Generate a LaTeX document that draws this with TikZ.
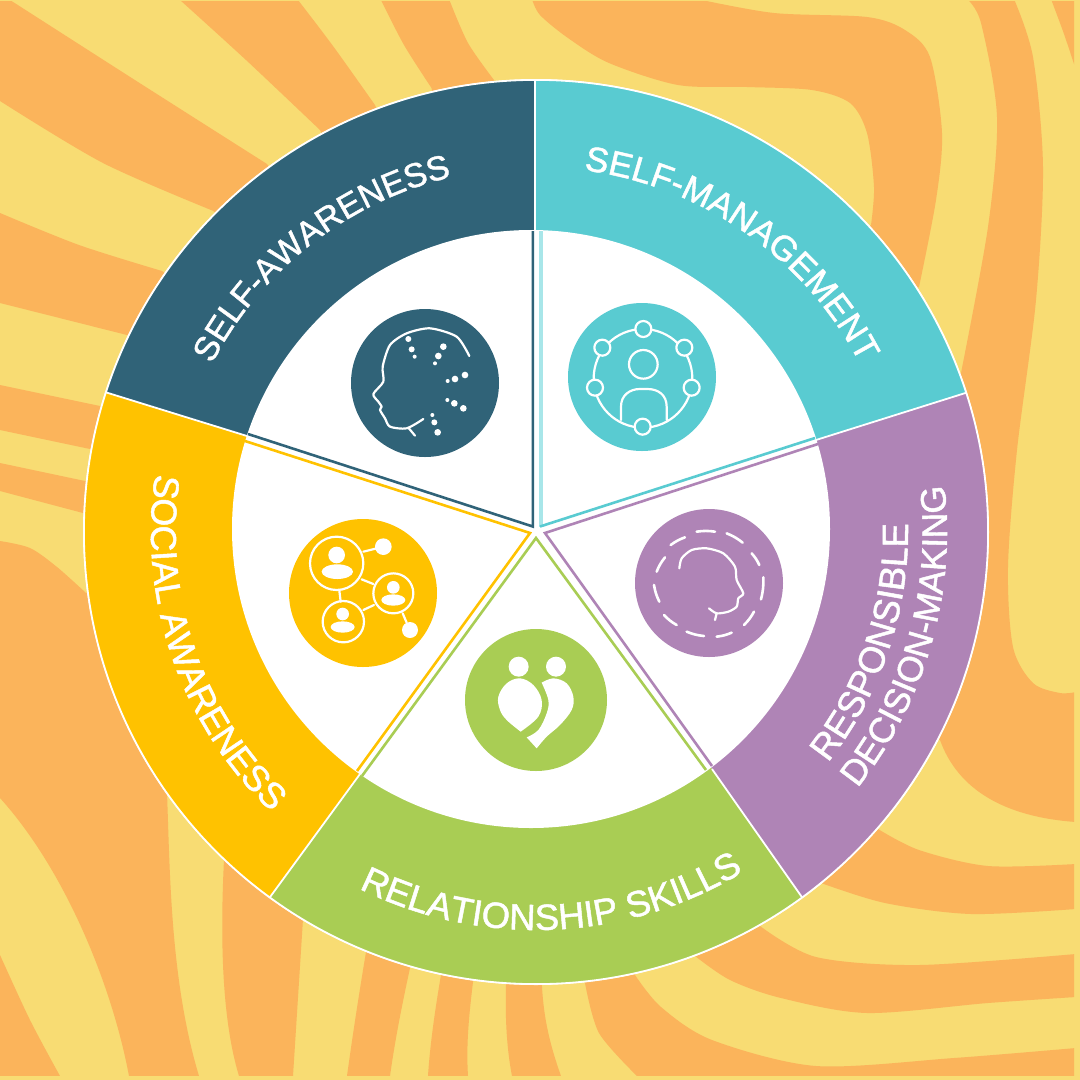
\documentclass[tikz,border=0pt]{standalone}
\usepackage{fontspec}
\usetikzlibrary{decorations.text}
\newfontfamily\lab[FakeBold=1.3]{Liberation Sans}
\definecolor{bgY}{HTML}{F8DC73}
\definecolor{bgO}{HTML}{FBB45B}
\definecolor{cDark}{HTML}{306378}
\definecolor{cTeal}{HTML}{59CBD1}
\definecolor{cTealL}{HTML}{A8E6E9}
\definecolor{cPurp}{HTML}{AF84B6}
\definecolor{cGreen}{HTML}{A9CD54}
\definecolor{cGold}{HTML}{FFC200}
\tikzset{
  stripe/.style={fill=bgO},
  seam/.style={draw=white,line width=1.8pt},
  rim/.style={line width=2.6pt,line join=miter},
  ico/.style={draw=white,line width=2.2pt,line cap=round,line join=round},
  zoomA/.style={shift={(340,295)},x=0.33333pt,y=-0.33333pt},
  zoomB/.style={shift={(280,500)},x=0.33333pt,y=-0.33333pt}
}
\newcommand{\archtext}[5]{% size, radius, start, end, text
  \path[decorate,decoration={text along path,text align=center,
    text={|\lab\fontsize{#1}{#1}\selectfont\color{white}|#5}}]
    (#3:#2) arc[start angle=#3,end angle=#4,radius=#2];}
\begin{document}
\begin{tikzpicture}[x=1pt,y=-1pt]
\useasboundingbox (0,0) rectangle (1080,1080);
\fill[bgY] (0,0) rectangle (1080,1080);
\begin{scope}
\clip (0,1) rectangle (1074,1075);
\coordinate (C) at (536,532);
% top-left stripes
\fill[stripe] (-20,-20) -- (10,0) -- plot[smooth] coordinates {(10,0) (138,82) (267,164)} -- (C) -- plot[smooth] coordinates {(213.5,211) (103,163) (0,101)} -- cycle;
\fill[stripe] plot[smooth] coordinates {(180,0) (246,60) (320,130)} -- (C) -- plot[smooth] coordinates {(375,105) (333,46) (298,0)} -- cycle;
\fill[stripe] plot[smooth] coordinates {(381,0) (404,45) (431.5,88)} -- (C) -- plot[smooth] coordinates {(494,80) (468,43) (449.4,0)} -- cycle;
% left stripes
\fill[stripe] plot[smooth] coordinates {(0,213) (79,245) (162,271)} -- (C) -- plot[smooth] coordinates {(127,335) (0,303)} -- cycle;
\fill[stripe] plot[smooth] coordinates {(0,385) (100,406)} -- (C) -- plot[smooth] coordinates {(90,449) (0,430)} -- cycle;
\fill[stripe] plot[smooth] coordinates {(0,463) (85,481)} -- (C) -- plot[smooth] coordinates {(83,513) (0,491)} -- cycle;
\fill[stripe] plot[smooth] coordinates {(0,541) (30,548) (57,567) (86,593)} -- (C) -- (167,793) .. controls (170,870) and (170,980) .. (199,1076) -- (129,1076) .. controls (112,985) and (65,870) .. (0,798) -- cycle;
\fill[stripe] plot[smooth] coordinates {(0,955) (30,1020) (60,1076)} -- (0,1076) -- cycle;
% bottom stripes
\fill[stripe] (224,860) .. controls (220,940) and (222,1020) .. (239,1076) -- (293,1076) -- (303,919) -- (C) -- cycle;
\fill[stripe] (366,952) .. controls (358,1000) and (352,1040) .. (347,1076) -- (390,1076) .. controls (395,1040) and (402,1005) .. (410,968) -- (C) -- cycle;
\fill[stripe] (441,975) .. controls (435,1010) and (430,1045) .. (428,1076) -- (468,1076) .. controls (466,1045) and (469,1015) .. (473,982) -- (C) -- cycle;
\fill[stripe] (506,985) .. controls (505,1020) and (507,1050) .. (512,1076) -- (561,1076) .. controls (550,1045) and (544,1020) .. (542,987) -- (C) -- cycle;
\fill[stripe] plot[smooth] coordinates {(585,983) (599,1033) (637,1076)} -- (1076,1076) -- plot[smooth] coordinates {(1076,1048) (954,1058) (816,1066) (712,1040) (661,1007) (635,975)} -- (C) -- cycle;
% right-bottom stripes
\fill[stripe] plot[smooth] coordinates {(760,926) (816,957) (919,965) (1076,954)} -- plot[smooth] coordinates {(1076,997) (988,1003) (867,1013) (781,998) (730,980) (695,956)} -- (C) -- cycle;
\fill[stripe] plot[smooth] coordinates {(878,829) (919,850) (988,866) (1076,864)} -- plot[smooth] coordinates {(1076,909) (971,914) (885,903) (821,883)} -- (C) -- cycle;
% top right
\fill[stripe] plot[smooth] coordinates {(532,-1) (540,15) (568,38) (609,63) (678,85) (747,87) (812,90) (850,103) (867,133) (874,187) (871,225)} -- (C) -- plot[smooth] coordinates {(919,287) (936,200) (942,133) (930,57) (905,30) (867,17) (774,13) (697,-1)} -- cycle;
\fill[stripe] plot[smooth] coordinates {(967,-1) (981,23) (997,117) (988,227) (961,373)} -- (C) -- (940,740) .. controls (958,790) and (1005,817) .. (1076,822) -- plot[smooth] coordinates {(1076,692) (1060,693) (1033,683) (1013,647) (1008,567) (1017,450) (1036,300) (1043,167) (1033,57) (1014,-1)} -- cycle;
\fill[stripe] plot[smooth] coordinates {(1051,-1) (1064,34) (1076,70)} -- (1076,-1) -- cycle;
\end{scope}

% disc and coloured bands
\fill[white] (536,532) circle[radius=453];
\begin{scope}
\clip (536,532) circle[radius=452];
\fill[cDark] (536,532) -- (534,240) -- (534,60) -- (60,60) -- (79,384) -- (247,436) -- cycle;
\fill[cTeal] (536,532) -- (536,240) -- (536,60) -- (1010,60) -- (994,384) -- (816,440) -- cycle;
\fill[cPurp] (536,532) -- (816,440) -- (994,384) -- (1020,900) -- (818,920) -- (712,769) -- cycle;
\fill[cGreen] (536,532) -- (712,769) -- (818,920) -- (818,1000) -- (254,1000) -- (254,919) -- (360,774) -- cycle;
\fill[cGold] (536,532) -- (360,774) -- (254,919) -- (50,900) -- (79,384) -- (247,436) -- cycle;
\draw[seam] (247,436) -- (79,384);
\draw[seam] (816,440) -- (994,384);
\draw[seam] (712,769) -- (818,920);
\draw[seam] (360,774) -- (254,919);
\draw[seam] (535,240) -- (535,60);
\end{scope}
\draw[white,line width=1.6pt] (536,532) circle[radius=452];
\fill[white] (531,529) circle[radius=299];

% wedge rims
\draw[rim,cDark] (532.8,231) -- (532.8,526.5) -- (248,434);
\draw[rim,cTealL,line width=4pt] (541,231) -- (541,527);
\draw[rim,cTeal] (540,526.5) -- (815,438);
\draw[rim,cGold] (245,441) -- (530,533) -- (357,771);
\draw[rim,cGreen] (362,776) -- (536,538) -- (706,770);
\draw[rim,cPurp] (818,444) -- (545,533) -- (712,766);

% icon discs
\fill[cDark] (425,383) circle[radius=74];
\fill[cTeal] (642,377) circle[radius=74];
\fill[cGold] (363,593) circle[radius=74];
\fill[cPurp] (709,583) circle[radius=74];
\fill[cGreen] (536,700) circle[radius=71];

% self-awareness icon
\begin{scope}[zoomA]
\draw[ico] plot[smooth,tension=0.45] coordinates {(388,183) (350,125) (270,100) (200,115) (150,150) (128,215) (130,260) (100,297) (115,320) (125,335) (120,345) (135,370) (150,395) (200,400) (250,372)};
\draw[ico] (205,398) -- (225,422);
\foreach \px/\py/\pr in {205/132/9,215/163/9,224/185/6,310/155/10,295/183/10,285/205/6,375/240/10,345/252/10,323/258/6,370/340/10,343/325/10,322/315/6,293/412/10,283/382/9,277/360/6}
  \fill[white] (\px,\py) circle[radius=\pr];
\end{scope}

% self-management icon
\begin{scope}[zoomA]
\draw[ico] (909,250) circle[radius=148];
\draw[ico] (910,208) circle[radius=43];
\draw[ico,fill=cTeal] (843,375) -- (843,335) .. controls (843,300) and (870,282) .. (900,282) -- (922,282) .. controls (955,282) and (980,300) .. (980,335) -- (980,375);
\foreach \px/\py in {910/102,787/158,1033/158,765/278,1055/278,908/395}
  \draw[ico,fill=cTeal] (\px,\py) circle[radius=24];
\end{scope}

% social awareness icon
\begin{scope}[zoomB]
\draw[ico] (170,190) circle[radius=80];
\draw[ico] (340,280) circle[radius=60];
\draw[ico] (190,365) circle[radius=62];
\fill[white] (310,140) circle[radius=25];
\fill[white] (390,390) circle[radius=24];
\draw[ico] (250,155) -- (290,145);
\draw[ico] (245,238) -- (280,252);
\draw[ico] (178,272) -- (182,305);
\draw[ico] (250,330) -- (282,315);
\draw[ico] (368,340) -- (380,368);
\fill[white] (170,165) circle[radius=25];
\fill[white] (172,215) ellipse[x radius=47,y radius=22];
\fill[white] (340,262) circle[radius=19];
\fill[white] (340,300) ellipse[x radius=36,y radius=17];
\fill[white] (188,342) circle[radius=19];
\fill[white] (188,381) ellipse[x radius=36,y radius=17];
\end{scope}

% decision-making icon
\begin{scope}[zoomB]
\draw[ico,line width=2.6pt] (1250,95) to[bend left=8] (1305,95);
\draw[ico,line width=2.6pt] (1340,100) to[bend left=8] (1388,128);
\draw[ico,line width=2.6pt] (1415,160) to[bend left=8] (1438,195);
\draw[ico,line width=2.6pt] (1450,232) to[bend left=8] (1443,298);
\draw[ico,line width=2.6pt] (1422,335) to[bend left=8] (1392,375);
\draw[ico,line width=2.6pt] (1355,398) to[bend left=8] (1310,410);
\draw[ico,line width=2.6pt] (1272,408) to[bend left=8] (1220,395);
\draw[ico,line width=2.6pt] (1190,375) to[bend left=8] (1152,345);
\draw[ico,line width=2.6pt] (1138,305) to[bend left=8] (1122,255);
\draw[ico,line width=2.6pt] (1130,215) to[bend left=8] (1155,172);
\draw[ico,line width=2.6pt] (1172,135) to[bend left=8] (1215,112);
\draw[ico] plot[smooth,tension=0.45] coordinates {(1198,205) (1205,175) (1235,150) (1280,145) (1330,160) (1365,200) (1370,240) (1390,280) (1375,295) (1370,320) (1345,335) (1310,340) (1287,325)};
\draw[ico] (1310,340) -- (1305,360);
\end{scope}

% relationship icon
\begin{scope}[zoomB]
\fill[white] (716,500) circle[radius=30];
\fill[white] (828,500) circle[radius=30];
\fill[white] plot[smooth,tension=0.6] coordinates {(722,695) (680,660) (660,630) (655,590) (680,550) (720,535) (760,555) (785,600) (775,650) (722,695)};
\fill[white] plot[smooth,tension=0.6] coordinates {(785,548) (820,535) (860,550) (880,590) (875,630) (840,675) (800,710) (770,745)} -- (740,712) -- plot[smooth,tension=0.6] coordinates {(740,712) (775,690) (800,640) (805,600) (785,548)} -- cycle;
\end{scope}

% band labels
\begin{scope}[shift={(536,532)},x=1pt,y=1pt]
\archtext{34}{365}{158}{98}{SELF-AWARENESS}
\archtext{35}{365}{90}{20}{SELF-MANAGEMENT}
\archtext{36}{385}{165}{233}{SOCIAL AWARENESS}
\archtext{36.5}{398}{240}{305}{RELATIONSHIP SKILLS}
\archtext{36.5}{372}{-45}{8}{RESPONSIBLE}
\archtext{35.5}{411}{-45}{13}{DECISION-MAKING}
\end{scope}
\end{tikzpicture}
\end{document}
